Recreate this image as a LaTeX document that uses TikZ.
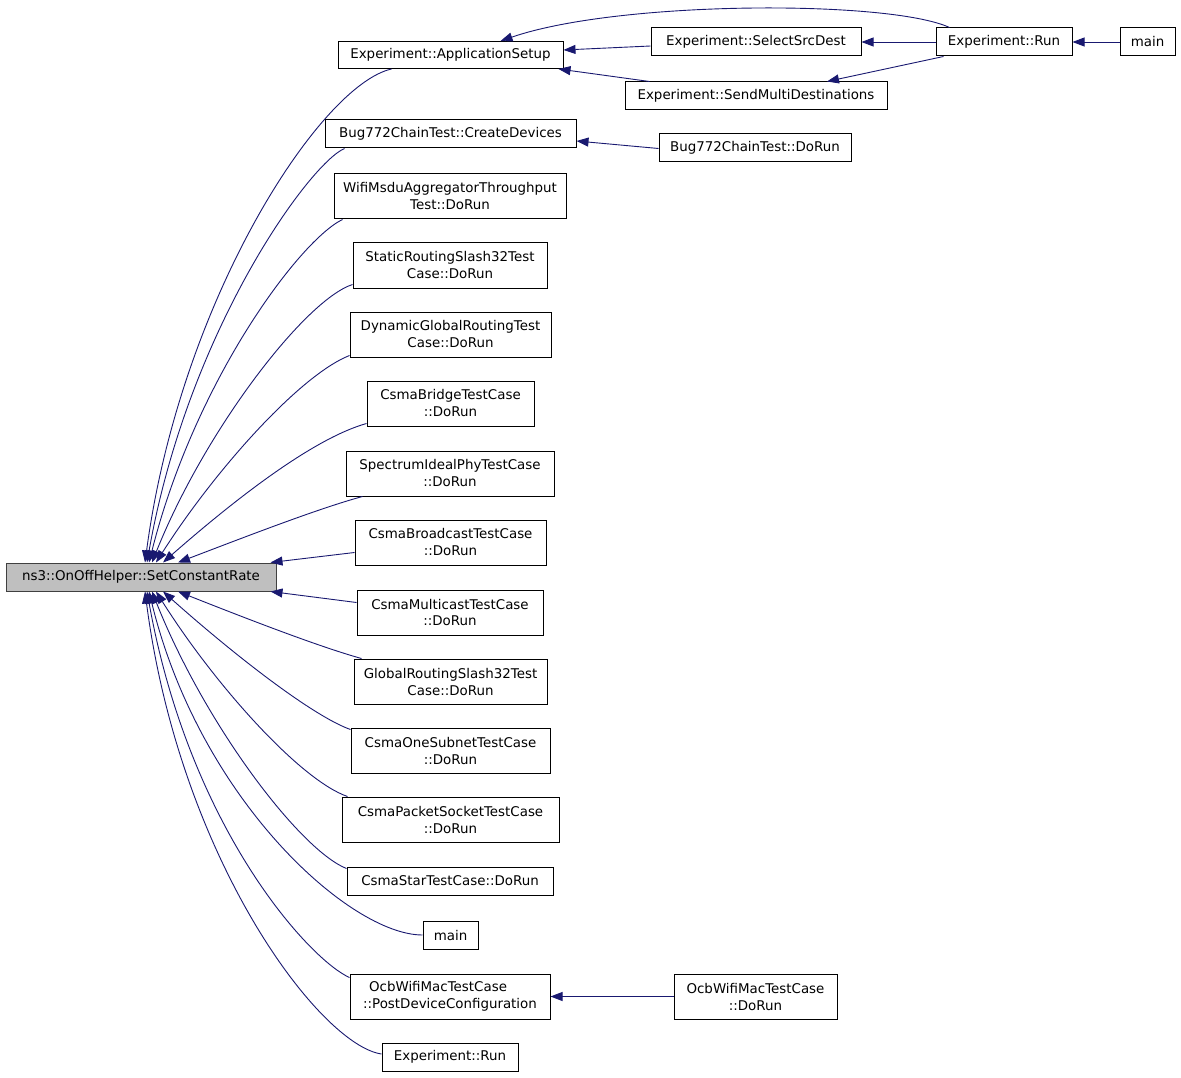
\documentclass[tikz,border=0pt]{standalone}
\usepackage{fontspec}
\setmainfont{DejaVu Sans}
\usetikzlibrary{arrows.meta}
\definecolor{edgeblue}{HTML}{191970}
\definecolor{rootgray}{HTML}{BFBFBF}
\tikzset{
  box/.style={draw=black, line width=1pt, fill=white, inner sep=0pt, align=center,
    font=\fontsize{13.4pt}{17pt}\selectfont},
  rootbox/.style={box, draw=black!75, fill=rootgray},
  edge/.style={draw=edgeblue, line width=0.9pt, -{Triangle[length=12pt,width=9pt]}},
}
\begin{document}
\begin{tikzpicture}[x=1pt,y=-1pt]
\useasboundingbox (0,0) rectangle (1181,1078);
% nodes
\node[rootbox, minimum width=270, minimum height=28] (root) at (141,577) {ns3::OnOffHelper::SetConstantRate};
\node[box, minimum width=225, minimum height=27] (appsetup) at (450.5,55) {Experiment::ApplicationSetup};
\node[box, minimum width=210, minimum height=28] (selsrc) at (756,42) {Experiment::SelectSrcDest};
\node[box, minimum width=262, minimum height=28] (sendmulti) at (756,96) {Experiment::SendMultiDestinations};
\node[box, minimum width=136, minimum height=28] (exprun) at (1004,42) {Experiment::Run};
\node[box, minimum width=55, minimum height=28] (maintop) at (1147.5,42) {main};
\node[box, minimum width=251, minimum height=28] (bugcreate) at (450.5,134) {Bug772ChainTest::CreateDevices};
\node[box, minimum width=192, minimum height=28] (bugdorun) at (755,147.5) {Bug772ChainTest::DoRun};
\node[box, minimum width=232, minimum height=45] (wifimsdu) at (450,196.5) {WifiMsduAggregatorThroughput\\Test::DoRun};
\node[box, minimum width=194, minimum height=45] (staticr) at (450,265.5) {StaticRoutingSlash32Test\\Case::DoRun};
\node[box, minimum width=201, minimum height=45] (dynamic) at (450.5,334.5) {DynamicGlobalRoutingTest\\Case::DoRun};
\node[box, minimum width=167, minimum height=45] (bridge) at (450.5,403.5) {CsmaBridgeTestCase\\::DoRun};
\node[box, minimum width=208, minimum height=45] (spectrum) at (450,473.5) {SpectrumIdealPhyTestCase\\::DoRun};
\node[box, minimum width=191, minimum height=45] (broadcast) at (450.5,542.5) {CsmaBroadcastTestCase\\::DoRun};
\node[box, minimum width=186, minimum height=45] (multicast) at (450,612.5) {CsmaMulticastTestCase\\::DoRun};
\node[box, minimum width=193, minimum height=45] (globalr) at (450.5,681.5) {GlobalRoutingSlash32Test\\Case::DoRun};
\node[box, minimum width=199, minimum height=45] (onesubnet) at (450.5,750.5) {CsmaOneSubnetTestCase\\::DoRun};
\node[box, minimum width=217, minimum height=45] (packetsock) at (450.5,819.5) {CsmaPacketSocketTestCase\\::DoRun};
\node[box, minimum width=206, minimum height=28] (star) at (450,881) {CsmaStarTestCase::DoRun};
\node[box, minimum width=55, minimum height=28] (mainlow) at (450.5,935) {main};
\node[box, minimum width=200, minimum height=45, align=left] (ocbpost) at (450,996.5) {\hspace*{6pt}OcbWifiMacTestCase\\::PostDeviceConfiguration};
\node[box, minimum width=163, minimum height=45] (ocbdorun) at (755.5,996.5) {OcbWifiMacTestCase\\::DoRun};
\node[box, minimum width=136, minimum height=28] (exprunlow) at (450,1057) {Experiment::Run};
% right-side edges
\draw[edge] ([yshift=-4]selsrc.west) -- ([yshift=5]appsetup.east);
\draw[edge] ([xshift=25]sendmulti.north west) -- ([xshift=-5]appsetup.south east);
\draw[edge] ([xshift=14]exprun.north west) .. controls (890,0) and (620,0) .. ([xshift=50]appsetup.north);
\draw[edge] (exprun.west) -- (selsrc.east);
\draw[edge] ([xshift=8]exprun.south west) -- ([xshift=71]sendmulti.north);
\draw[edge] (maintop.west) -- (exprun.east);
\draw[edge] ([yshift=-1]bugdorun.west) -- ([yshift=-7]bugcreate.east);
\draw[edge] (ocbdorun.west) -- (ocbpost.east);
% edges into root (top)
\draw[edge] ([xshift=54]appsetup.south west) .. controls (320,85) and (180,300) .. ([xshift=4]root.north);
\draw[edge] ([xshift=20]bugcreate.south west) .. controls (310,163) and (188,330) .. ([xshift=6]root.north);
\draw[edge] ([xshift=9]wifimsdu.south west) .. controls (300,240) and (195,380) .. ([xshift=8]root.north);
\draw[edge] ([yshift=4]staticr.south west) .. controls (305,300) and (205,430) .. ([xshift=11]root.north);
\draw[edge] ([yshift=2]dynamic.south west) .. controls (300,375) and (215,470) .. ([xshift=15]root.north);
\draw[edge] ([yshift=3]bridge.south west) .. controls (315,438) and (240,495) .. ([xshift=22]root.north);
\draw[edge] ([xshift=17]spectrum.south west) .. controls (320,508) and (250,535) .. ([xshift=37]root.north);
\draw[edge] ([yshift=-10]broadcast.west) -- ([xshift=-6]root.north east);
% edges into root (bottom)
\draw[edge] ([yshift=10]multicast.west) -- ([xshift=-6]root.south east);
\draw[edge] ([xshift=8]globalr.north west) .. controls (320,647) and (250,620) .. ([xshift=37]root.south);
\draw[edge] ([yshift=-2]onesubnet.north west) .. controls (315,717) and (240,660) .. ([xshift=22]root.south);
\draw[edge] ([xshift=6]packetsock.north west) .. controls (300,780) and (215,685) .. ([xshift=15]root.south);
\draw[edge] ([yshift=-2]star.north west) .. controls (300,850) and (205,725) .. ([xshift=11]root.south);
\draw[edge] (mainlow.west) .. controls (350,935) and (200,800) .. ([xshift=8]root.south);
\draw[edge] ([yshift=-4]ocbpost.north west) .. controls (310,960) and (190,830) .. ([xshift=6]root.south);
\draw[edge] ([yshift=3]exprunlow.west) .. controls (320,1045) and (180,860) .. ([xshift=4]root.south);
\end{tikzpicture}
\end{document}
